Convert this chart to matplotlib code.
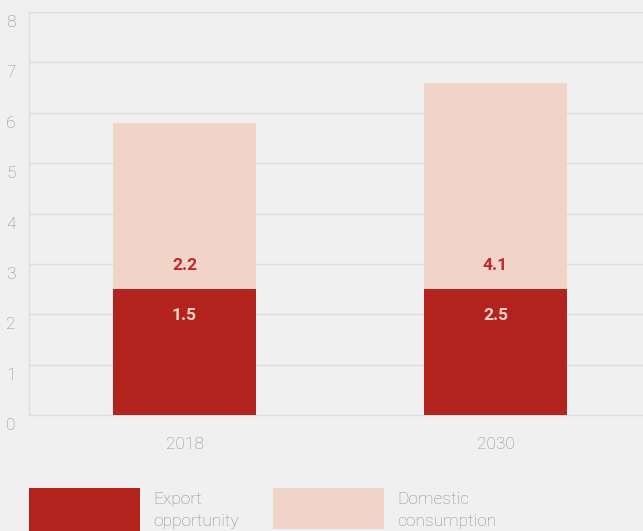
import matplotlib
matplotlib.use("Agg")
import matplotlib.pyplot as plt
from matplotlib.patches import Rectangle

# Data
years = ["2018", "2030"]
export_opportunity = [2.5, 2.5]
domestic_consumption = [3.3, 4.1]
export_labels = ["1.5", "2.5"]
domestic_labels = ["2.2", "4.1"]
y_ticks = [0, 1, 2, 3, 4, 5, 6, 7, 8]
legend_names = ["Export\nopportunity", "Domestic\nconsumption"]

RED = "#b3231e"
PINK = "#f0d4c8"
BG = "#eff0ef"
GRID = "#dcdddc"
TEXT = "#8c8c8c"
FONT = "Roboto"

W, H = 643, 531
fig = plt.figure(figsize=(W / 100, H / 100), dpi=100, facecolor=BG)

left, right, top, bottom = 29, 643, 12, 415
ax = fig.add_axes([left / W, 1 - bottom / H, (right - left) / W, (bottom - top) / H])
ax.set_facecolor(BG)

x = list(range(len(years)))
bar_w = 0.46
ax.bar(x, export_opportunity, width=bar_w, color=RED, zorder=3)
ax.bar(x, domestic_consumption, width=bar_w, bottom=export_opportunity,
       color=PINK, zorder=3)

# Value labels sit on either side of the segment boundary
for xi, e, el, dl in zip(x, export_opportunity, export_labels, domestic_labels):
    ax.text(xi, e - 0.5, el, ha="center", va="center_baseline", color=PINK,
            fontsize=12.5, fontweight="bold", family=FONT, zorder=4)
    ax.text(xi, e + 0.5, dl, ha="center", va="center_baseline", color="#c0282a",
            fontsize=12.5, fontweight="bold", family=FONT, zorder=4)

ax.set_xlim(-0.5, 1.474)
ax.set_ylim(0, 8)

ax.set_yticks(y_ticks)
ax.set_yticklabels([])
ax.yaxis.grid(True, color=GRID, lw=1.0, zorder=0)
ax.tick_params(axis="y", length=0)
ytrans = ax.get_yaxis_transform()
for v in y_ticks:
    ax.text(-18 / (right - left), v - 0.06, str(v), transform=ytrans,
            ha="center", va="top", color=TEXT, fontsize=12.5,
            fontweight="light", family=FONT, clip_on=False)

ax.set_xticks(x)
ax.set_xticklabels(years, color=TEXT, fontsize=12.5, fontweight="light",
                   family=FONT)
ax.tick_params(axis="x", length=0, pad=15.5)

for s in ["top", "right"]:
    ax.spines[s].set_visible(False)
for s in ["left", "bottom"]:
    ax.spines[s].set_color(GRID)
    ax.spines[s].set_linewidth(1.0)

# Legend swatches and captions
swatches = [(29, 140, 488, 531, RED), (273, 384, 488, 529, PINK)]
text_x = [153, 397]
for (x0, x1, y0, y1, c), tx, name in zip(swatches, text_x, legend_names):
    fig.patches.append(Rectangle((x0 / W, 1 - y1 / H), (x1 - x0) / W,
                                 (y1 - y0) / H, transform=fig.transFigure,
                                 facecolor=c, edgecolor="none"))
    fig.text(tx / W, 1 - 492 / H, name, ha="left", va="top", color=TEXT,
             fontsize=12.5, fontweight="light", family=FONT, linespacing=1.55)

fig.savefig("out.png", dpi=100, facecolor=BG)
